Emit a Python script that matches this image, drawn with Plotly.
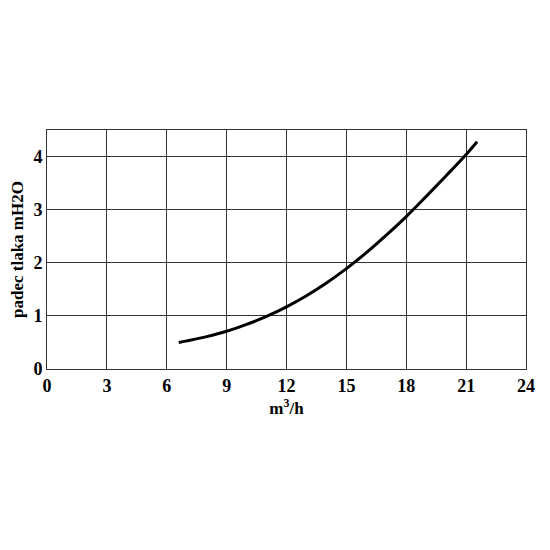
import plotly.graph_objects as go

flow = [6.6, 7, 8, 9, 10, 11, 12, 13, 14, 15, 16, 17, 18, 19, 20, 21, 21.55]
drop = [0.50, 0.53, 0.61, 0.71, 0.84, 0.99, 1.17, 1.38, 1.62, 1.89, 2.19, 2.52, 2.87, 3.25, 3.64, 4.04, 4.28]
x_ticks = [0, 3, 6, 9, 12, 15, 18, 21, 24]
y_ticks = [0, 1, 2, 3, 4]

font = dict(family="Liberation Serif, Times New Roman, serif", color="black", size=18)

fig = go.Figure(go.Scatter(x=flow, y=drop, mode="lines",
                           line=dict(color="black", width=3, shape="spline", smoothing=1)))
fig.update_layout(
    width=550, height=550,
    margin=dict(l=39, r=32, t=122, b=189, autoexpand=False),
    paper_bgcolor="white", plot_bgcolor="white",
    showlegend=False,
    font=font,
)
fig.update_xaxes(range=[0, 24], tickvals=x_ticks, ticktext=[f"<b>{t}</b>" for t in x_ticks],
                 showgrid=True, gridcolor="#333", gridwidth=1, zeroline=False,
                 showline=True, linecolor="#333", linewidth=1, mirror=True,
                 ticks="", ticklen=0, automargin=False,
                 title=dict(text="<b>m<sup>3</sup>/h</b>", standoff=6, font=dict(size=17)))
fig.update_yaxes(range=[0, 4.5], tickvals=y_ticks, ticktext=[f"<b>{t}</b>" for t in y_ticks],
                 showgrid=True, gridcolor="#333", gridwidth=1, zeroline=False,
                 showline=True, linecolor="#333", linewidth=1, mirror=True,
                 ticks="", ticklen=0, automargin=False,
                 title=dict(text="<b>padec tlaka mH2O</b>", standoff=8, font=dict(size=17)))
fig.write_html("out.html")
